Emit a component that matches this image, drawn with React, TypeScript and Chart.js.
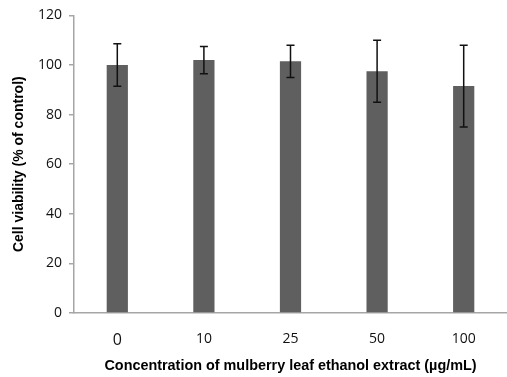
import React, { useEffect, useRef } from "react";
import { Chart, registerables } from "chart.js";

Chart.register(...registerables);

const categories = ["0", "10", "25", "50", "100"];
const viability = [100, 102, 101.5, 97.5, 91.5];
const errors = [8.6, 5.5, 6.5, 12.5, 16.5];
const yTicks = [0, 20, 40, 60, 80, 100, 120];

const errorBarPlugin = {
  id: "errorBars",
  afterDatasetsDraw(chart: any) {
    const ctx = chart.ctx;
    const meta = chart.getDatasetMeta(0);
    const yScale = chart.scales.y;
    ctx.save();
    ctx.strokeStyle = "#111111";
    ctx.lineWidth = 1.5;
    meta.data.forEach((bar: any, i: number) => {
      const x = bar.x;
      const top = yScale.getPixelForValue(viability[i] + errors[i]);
      const bottom = yScale.getPixelForValue(viability[i] - errors[i]);
      ctx.beginPath();
      ctx.moveTo(x, top);
      ctx.lineTo(x, bottom);
      ctx.moveTo(x - 4, top);
      ctx.lineTo(x + 4, top);
      ctx.moveTo(x - 4, bottom);
      ctx.lineTo(x + 4, bottom);
      ctx.stroke();
    });
    ctx.restore();
  },
};

export default function App() {
  const canvasRef = useRef<HTMLCanvasElement | null>(null);

  useEffect(() => {
    if (!canvasRef.current) return;
    const chart = new Chart(canvasRef.current, {
      type: "bar",
      data: {
        labels: categories,
        datasets: [
          {
            data: viability,
            backgroundColor: "#5f5f5f",
            borderWidth: 0,
            barPercentage: 0.245,
            categoryPercentage: 1,
          },
        ],
      },
      options: {
        animation: false,
        responsive: false,
        maintainAspectRatio: false,
        layout: { padding: { top: 15, right: 0, left: 11, bottom: 2 } },
        plugins: {
          legend: { display: false },
          tooltip: { enabled: false },
        },
        scales: {
          x: {
            grid: { display: false, drawTicks: false },
            border: { display: true, color: "#a6a6a6", width: 1.5 },
            ticks: {
              padding: 18,
              color: "#111111",
              font: (c: any) => ({
                family: "'Open Sans', Arial, sans-serif",
                size: c.index === 0 ? 16 : 14,
              }),
            },
            title: {
              display: true,
              text: "Concentration of mulberry leaf ethanol extract (µg/mL)",
              color: "#000000",
              font: { family: "'Liberation Sans', Arial, sans-serif", size: 14.4, weight: "bold" },
              padding: { top: 6, bottom: 0 },
            },
            afterFit: (s: any) => {
              s.height = 62;
            },
          },
          y: {
            min: 0,
            max: 120,
            afterBuildTicks: (s: any) => {
              s.ticks = yTicks.map((v) => ({ value: v }));
            },
            grid: {
              display: true,
              drawOnChartArea: false,
              drawTicks: true,
              tickLength: 5,
              color: "#a6a6a6",
              lineWidth: 1.5,
            },
            border: { display: true, color: "#a6a6a6", width: 1.5 },
            ticks: {
              padding: 7,
              color: "#111111",
              font: { family: "'Open Sans', Arial, sans-serif", size: 14 },
            },
            title: {
              display: true,
              text: "Cell viability (% of control)",
              color: "#000000",
              font: { family: "'Liberation Sans', Arial, sans-serif", size: 14, weight: "bold" },
              padding: { top: 0, bottom: 6 },
            },
            afterFit: (s: any) => {
              s.width = 63;
            },
          },
        },
      },
      plugins: [errorBarPlugin],
    });
    return () => chart.destroy();
  }, []);

  return (
    <div style={{ position: "absolute", left: 0, top: 0, width: 507, height: 377 }}>
      <canvas ref={canvasRef} width={507} height={377} />
    </div>
  );
}
